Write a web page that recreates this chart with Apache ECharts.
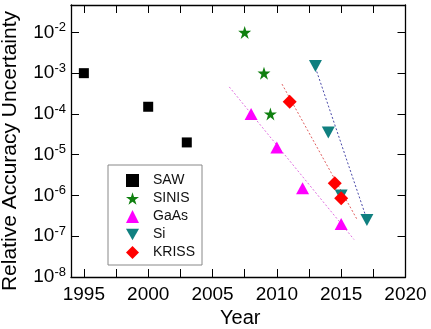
<!DOCTYPE html>
<html>
<head>
<meta charset="utf-8">
<script src="https://cdn.jsdelivr.net/npm/echarts@6/dist/echarts.min.js"></script>
<style>html,body{margin:0;padding:0;background:#fff;}#c{width:431px;height:329px;}</style>
</head>
<body>
<div id="c"></div>
<script>
// ---- data ----
var sawYears = [1995, 2000, 2003];
var sawVals = [1e-3, 1.5e-4, 2e-5];
var sinisYears = [2007.5, 2009, 2009.5];
var sinisVals = [1e-2, 1e-3, 1e-4];
var gaasYears = [2008, 2010, 2012, 2015];
var gaasVals = [1e-4, 1.5e-5, 1.5e-6, 2e-7];
var siYears = [2013, 2014, 2015, 2017];
var siVals = [1.5e-3, 3.5e-5, 1e-6, 2.5e-7];
var krissYears = [2011, 2014.5, 2015];
var krissVals = [2e-4, 2e-6, 8.5e-7];
// dotted trend lines (endpoints)
var gaasFitYears = [2006.3, 2016.0];
var gaasFitVals = [4.6e-4, 8.3e-8];
var krissFitYears = [2010.4, 2016.2];
var krissFitVals = [5.4e-4, 2.7e-7];
var siFitYears = [2013.1, 2016.9];
var siFitVals = [1.1e-3, 3.2e-7];
// ticks
var xMajor = [1995, 2000, 2005, 2010, 2015, 2020];
var xMinor = [1997.5, 2002.5, 2007.5, 2012.5, 2017.5];
var yMajor = [1e-8, 1e-7, 1e-6, 1e-5, 1e-4, 1e-3, 1e-2];
var seriesNames = ['SAW', 'SINIS', 'GaAs', 'Si', 'KRISS'];

var X_MIN = 1994, X_MAX = 2020, Y_MIN = 1e-8, Y_MAX = 0.047;
var xAll = xMajor.concat(xMinor);

function zip(a, b) { return a.map(function (v, i) { return [v, b[i]]; }); }

var FONT = 'Liberation Sans, Arial, sans-serif';
var STAR = 'path://M50,0 L61.2,34.5 L97.6,34.5 L68.2,55.9 L79.4,90.5 L50,69.1 L20.6,90.5 L31.8,55.9 L2.4,34.5 L38.8,34.5 Z';
var TRI_DOWN = 'path://M0,0 L100,0 L50,90 Z';
var lineAx = { show: true, lineStyle: { color: '#000', width: 1.3 } };
function tick(vals) {
  return { show: true, inside: true, length: 8, customValues: vals, lineStyle: { color: '#000' } };
}

var chart = echarts.init(document.getElementById('c'));
chart.setOption({
  animation: false,
  grid: { left: 71, right: 25.5, top: 5, bottom: 52, containLabel: false, outerBoundsMode: 'none' },
  xAxis: [
    {
      type: 'value', min: X_MIN, max: X_MAX, position: 'bottom',
      axisLine: lineAx, axisTick: tick(xAll),
      axisLabel: { show: true, customValues: xMajor, fontSize: 19, color: '#000', fontFamily: FONT,
        formatter: function (v) { return String(v); } },
      splitLine: { show: false },
      name: 'Year', nameLocation: 'middle', nameGap: 30,
      nameTextStyle: { fontSize: 20, color: '#000', fontFamily: FONT, padding: [0, 0, 0, 4] }
    },
    {
      type: 'value', min: X_MIN, max: X_MAX, position: 'top',
      axisLine: lineAx, axisTick: tick(xAll),
      axisLabel: { show: false }, splitLine: { show: false }
    }
  ],
  yAxis: [
    {
      type: 'log', min: Y_MIN, max: Y_MAX, position: 'left',
      axisLine: lineAx, axisTick: tick(yMajor),
      axisLabel: {
        show: true, customValues: yMajor, margin: 5, color: '#000', fontFamily: FONT, fontSize: 19,
        formatter: function (v) { return '10{s|' + Math.round(Math.log10(v)) + '}'; },
        rich: { s: { fontSize: 13, fontFamily: FONT, color: '#000', padding: [0, 0, 10, 0] } }
      },
      splitLine: { show: false },
      name: 'Relative Accuracy Uncertainty', nameLocation: 'middle', nameGap: 50,
      nameTextStyle: { fontSize: 21, color: '#000', fontFamily: FONT, padding: [0, 20, 0, 0] }
    },
    {
      type: 'log', min: Y_MIN, max: Y_MAX, position: 'right',
      axisLine: lineAx, axisTick: tick(yMajor),
      axisLabel: { show: false }, splitLine: { show: false }
    }
  ],
  legend: {
    data: [
      { name: 'SAW' }, { name: 'SINIS' }, { name: 'GaAs' },
      { name: 'Si', icon: TRI_DOWN }, { name: 'KRISS' }
    ],
    orient: 'vertical', left: 108, top: 165,
    padding: [8, 7, 5, 18],
    itemWidth: 13, itemHeight: 13, itemGap: 3,
    borderColor: '#888', borderWidth: 1, backgroundColor: '#fff',
    textStyle: { fontSize: 14, lineHeight: 15, color: '#111', fontFamily: FONT, padding: [0, 0, 0, 9] },
    selectedMode: false
  },
  series: [
    { name: 'gaasFit', type: 'line', data: zip(gaasFitYears, gaasFitVals), symbol: 'none', silent: true, z: 1,
      lineStyle: { color: '#e070e0', width: 1, type: [2, 2] } },
    { name: 'krissFit', type: 'line', data: zip(krissFitYears, krissFitVals), symbol: 'none', silent: true, z: 1,
      lineStyle: { color: '#e06060', width: 1, type: [2, 2] } },
    { name: 'siFit', type: 'line', data: zip(siFitYears, siFitVals), symbol: 'none', silent: true, z: 1,
      lineStyle: { color: '#4848a8', width: 1, type: [2, 2] } },
    { name: 'SAW', type: 'scatter', data: zip(sawYears, sawVals), symbol: 'rect', symbolSize: 10,
      itemStyle: { color: '#000', opacity: 1 }, z: 3 },
    { name: 'SINIS', type: 'scatter', data: zip(sinisYears, sinisVals), symbol: STAR, symbolSize: 13,
      itemStyle: { color: '#108010', opacity: 1 }, z: 3 },
    { name: 'GaAs', type: 'scatter', data: zip(gaasYears, gaasVals), symbol: 'triangle', symbolSize: [13, 12],
      itemStyle: { color: '#ff00ff', opacity: 1 }, z: 3 },
    { name: 'Si', type: 'scatter', data: zip(siYears, siVals), symbol: TRI_DOWN, symbolSize: [13, 12],
      itemStyle: { color: '#108080', opacity: 1 }, z: 3 },
    { name: 'KRISS', type: 'scatter', data: zip(krissYears, krissVals), symbol: 'diamond', symbolSize: 14,
      itemStyle: { color: '#ff0000', opacity: 1 }, z: 3 }
  ]
});
</script>
</body>
</html>
